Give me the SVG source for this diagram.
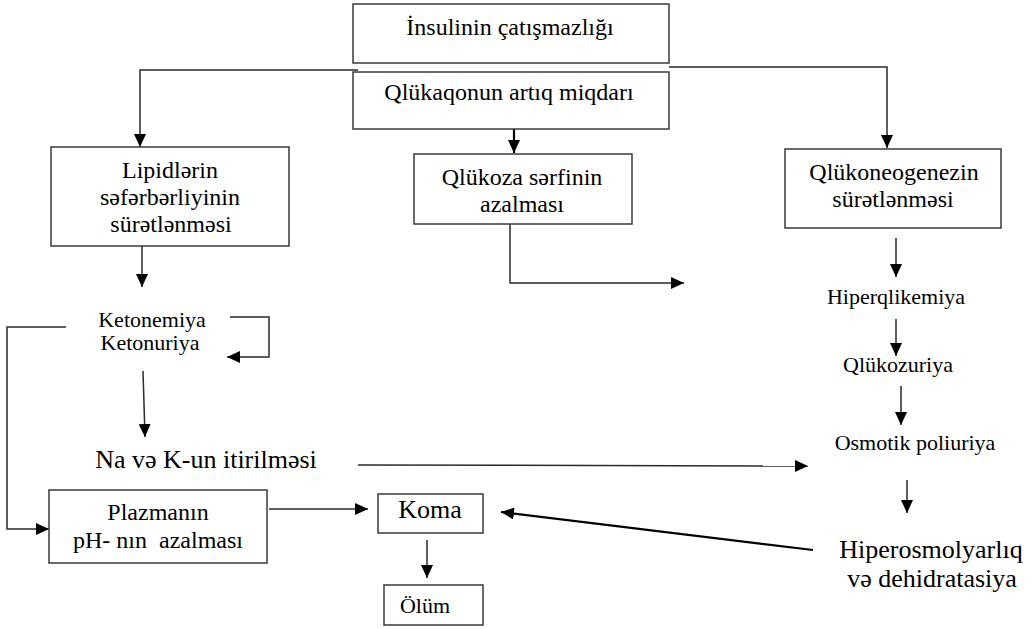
<svg xmlns="http://www.w3.org/2000/svg" width="1035" height="629" viewBox="0 0 1035 629">
  <style>
    .box { fill: #fff; stroke: #3a3a3a; stroke-width: 1.5; }
    .ln { fill: none; stroke: #2a2a2a; stroke-width: 1.5; }
    .thick { stroke: #000; stroke-width: 2.2; }
    .lbl { font-family: "Liberation Serif", "Times New Roman", serif; fill: #000; text-anchor: middle; }
    .t22 { font-size: 22px; }
    .t24 { font-size: 24px; }
    .t26 { font-size: 26px; }
  </style>
  <defs>
    <marker id="arr" markerUnits="userSpaceOnUse" markerWidth="14" markerHeight="12" refX="13" refY="6" orient="auto">
      <path d="M0,0 L13,6 L0,12 Z" fill="#000"/>
    </marker>
  </defs>

  <rect width="1035" height="629" fill="#fff"/>

  <g id="connectors">
    <path class="ln" d="M358,70 H140 V147" marker-end="url(#arr)"/>
    <path class="ln" d="M669,67 H887 V148" marker-end="url(#arr)"/>
    <path class="ln thick" d="M514,129 V153" marker-end="url(#arr)"/>
    <path class="ln" d="M142,246 V287" marker-end="url(#arr)"/>
    <path class="ln" d="M510,224 V283 H684" marker-end="url(#arr)"/>
    <path class="ln" d="M896,238 V277" marker-end="url(#arr)"/>
    <path class="ln" d="M896,319 V356" marker-end="url(#arr)"/>
    <path class="ln" d="M901,386 V425" marker-end="url(#arr)"/>
    <path class="ln" d="M907,480 V513" marker-end="url(#arr)"/>
    <path class="ln" d="M230,317 H269 V357 H227" marker-end="url(#arr)"/>
    <path class="ln" d="M66,327 H7 V529 H49" marker-end="url(#arr)"/>
    <path class="ln" d="M143,371 L145,437" marker-end="url(#arr)"/>
    <path class="ln" d="M358,465 L808,466" marker-end="url(#arr)"/>
    <path class="ln" d="M269,509 H368" marker-end="url(#arr)"/>
    <path class="ln thick" d="M813,550 L501,512" marker-end="url(#arr)"/>
    <path class="ln" d="M427,540 V578" marker-end="url(#arr)"/>
  </g>

  <g id="insulin">
    <rect class="box" x="353" y="4" width="316" height="59"/>
    <text class="lbl t24" x="510" y="35">İnsulinin çatışmazlığı</text>
  </g>
  <g id="glucagon">
    <rect class="box" x="353" y="72" width="316" height="57"/>
    <text class="lbl t24" x="509" y="100">Qlükaqonun artıq miqdarı</text>
  </g>
  <g id="lipid">
    <rect class="box" x="51" y="147" width="238" height="99"/>
    <text class="lbl t24" x="170" y="178">Lipidlərin</text>
    <text class="lbl t24" x="170" y="205">səfərbərliyinin</text>
    <text class="lbl t24" x="171" y="232">sürətlənməsi</text>
  </g>
  <g id="glucose-use">
    <rect class="box" x="414" y="154" width="218" height="70"/>
    <text class="lbl t24" x="522" y="185">Qlükoza sərfinin</text>
    <text class="lbl t24" x="522" y="212">azalması</text>
  </g>
  <g id="gluconeogenesis">
    <rect class="box" x="785" y="149" width="216" height="79"/>
    <text class="lbl t24" x="894" y="180">Qlükoneogenezin</text>
    <text class="lbl t24" x="893" y="207">sürətlənməsi</text>
  </g>
  <g id="hyperglycemia">
    <text class="lbl t22" x="896" y="304">Hiperqlikemiya</text>
  </g>
  <g id="glucosuria">
    <text class="lbl t22" x="898" y="372">Qlükozuriya</text>
  </g>
  <g id="polyuria">
    <text class="lbl t22" x="915" y="450">Osmotik poliuriya</text>
  </g>
  <g id="hyperosmolarity">
    <text class="lbl t26" x="931" y="558">Hiperosmolyarlıq</text>
    <text class="lbl t26" x="932" y="587">və dehidratasiya</text>
  </g>
  <g id="ketonemia">
    <text class="lbl t22" x="152" y="327">Ketonemiya</text>
    <text class="lbl t22" x="150" y="350">Ketonuriya</text>
  </g>
  <g id="electrolytes">
    <text class="lbl t26" x="206" y="468">Na və K-un itirilməsi</text>
  </g>
  <g id="acidosis">
    <rect class="box" x="49" y="490" width="218" height="73"/>
    <text class="lbl t24" x="158" y="520">Plazmanın</text>
    <text class="lbl t24" x="158" y="548" xml:space="preserve">pH- nın  azalması</text>
  </g>
  <g id="coma">
    <rect class="box" x="378" y="494" width="105" height="39"/>
    <text class="lbl t26" x="430" y="518">Koma</text>
  </g>
  <g id="death">
    <rect class="box" x="384" y="585" width="99" height="40"/>
    <text class="lbl t22" x="425" y="613">Ölüm</text>
  </g>
</svg>
